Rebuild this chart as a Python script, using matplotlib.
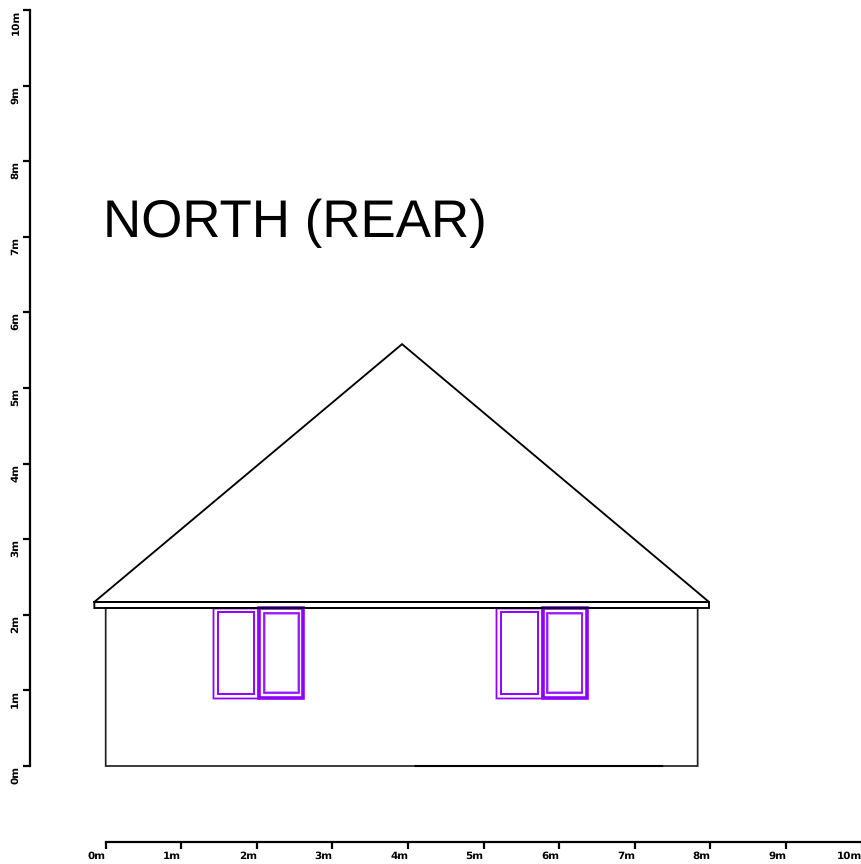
# %%
import matplotlib
matplotlib.use("Agg")
import matplotlib.pyplot as plt
from matplotlib.patches import Rectangle

plt.rcParams["text.hinting"] = "no_hinting"

# %%
## Elevation values, metres
ticks = list(range(0, 11))
tick_labels = [f"{t}m" for t in ticks]

wall_x = [0, 0, 7.83, 7.83, 0]
wall_y = [2.09, 0, 0, 2.09, 2.09]
ground_x = [4.1, 7.36]
ground_y = [0, 0]
roof_x = [-0.15, 3.92, 7.98, -0.15]
roof_y = [2.17, 5.58, 2.17, 2.17]
fascia_x = [-0.15, 7.98, 7.98, -0.15, -0.15]
fascia_y = [2.17, 2.17, 2.09, 2.09, 2.17]

# (x0, x1, y0, y1)
fixed_frames = [(1.418, 2.02, 0.90, 2.09), (5.165, 5.77, 0.90, 2.09)]
fixed_panes = [(1.484, 1.968, 0.952, 2.037), (5.228, 5.712, 0.952, 2.037)]
open_frames = [(2.03, 2.615, 0.90, 2.085), (5.78, 6.365, 0.90, 2.085)]
open_panes = [(2.11, 2.546, 0.979, 2.01), (5.85, 6.295, 0.979, 2.01)]

# %%
## Globals
PX_PER_M = 75.6
ORIGIN_X = 105.7
ORIGIN_Y = 766
PURPLE = "#9000ff"

fig = plt.figure(figsize=(8.62, 8.64), dpi=100)
ax = fig.add_axes([0, 0, 1, 1])
ax.set_xlim(-ORIGIN_X / PX_PER_M, (862 - ORIGIN_X) / PX_PER_M)
ax.set_ylim(-(864 - ORIGIN_Y) / PX_PER_M, ORIGIN_Y / PX_PER_M)
ax.patch.set_visible(False)


def draw_rect(box, **kwargs):
    x0, x1, y0, y1 = box
    ax.add_patch(Rectangle((x0, y0), x1 - x0, y1 - y0, fill=False,
                           edgecolor=PURPLE, joinstyle="miter", **kwargs))


# %%
## House
ax.plot(wall_x, wall_y, color="#222222", lw=1.25, solid_joinstyle="miter", snap=False)
ax.plot(ground_x, ground_y, color="black", lw=1.5, snap=False)
ax.plot(roof_x, roof_y, color="black", lw=1.35, solid_joinstyle="miter", snap=False)
ax.plot(fascia_x, fascia_y, color="black", lw=1.35, solid_joinstyle="miter", snap=False)

for box in fixed_frames:
    draw_rect(box, lw=1.9, alpha=0.3)
    draw_rect(box, lw=1.0)
for box in fixed_panes:
    draw_rect(box, lw=1.4)
for box in open_frames:
    draw_rect(box, lw=2.6)
for box in open_panes:
    draw_rect(box, lw=1.4, alpha=0.4)
    draw_rect((box[0] - 0.01, box[1] + 0.01, box[2] - 0.01, box[3] + 0.01), lw=1.2)

ax.text(-0.04, 7.0, "NORTH (REAR)", family="Liberation Sans", fontsize=38.1,
        color="black", ha="left", va="baseline")

# %%
## Scale axes
for side in ["top", "right"]:
    ax.spines[side].set_visible(False)
ax.spines["left"].set_position(("data", -1))
ax.spines["bottom"].set_position(("data", -1))
ax.spines["left"].set_bounds(0, 10)
ax.spines["bottom"].set_bounds(0, 10)
ax.spines["left"].set_linewidth(1.6)
ax.spines["bottom"].set_linewidth(1.6)

ax.set_xticks(ticks)
ax.set_yticks(ticks)
ax.set_xticklabels(tick_labels, fontsize=7.5, fontweight="bold", ha="right")
ax.set_yticklabels(tick_labels, fontsize=7.5, fontweight="bold", rotation=90, va="top", ha="right")
ax.tick_params(axis="both", length=5, width=1.6, pad=2)

fig.savefig("out.png", dpi=100)
